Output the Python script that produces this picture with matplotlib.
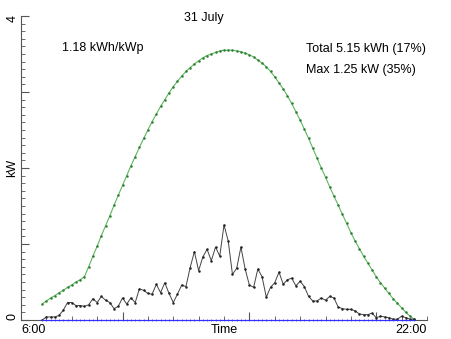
import matplotlib
matplotlib.use('Agg')
import matplotlib.pyplot as plt
import numpy as np
from matplotlib.ticker import FixedLocator, MultipleLocator, NullFormatter

plt.rcParams['font.family'] = ['Liberation Sans', 'DejaVu Sans']

title = "31 July"
yield_text = "1.18 kWh/kWp"
total_text = "Total 5.15 kWh (17%)"
max_text = "Max 1.25 kW (35%)"
start_label = "6:00"
end_label = "22:00"
y_labels = ["0", "4"]

start_hour = 6 + 50 / 60   # first sample 6:50
step_minutes = 10

clear_sky = [0.21, 0.25, 0.29, 0.32, 0.36, 0.39, 0.43, 0.46, 0.50, 0.53,
             0.57, 0.70, 0.84, 0.97, 1.11, 1.24, 1.37, 1.51, 1.64, 1.77,
             1.90, 2.03, 2.15, 2.27, 2.39, 2.50, 2.61, 2.71, 2.81, 2.90,
             2.99, 3.07, 3.14, 3.21, 3.27, 3.32, 3.37, 3.41, 3.45, 3.48,
             3.50, 3.52, 3.54, 3.55, 3.55, 3.55, 3.54, 3.53, 3.51, 3.49,
             3.46, 3.42, 3.38, 3.33, 3.27, 3.20, 3.12, 3.04, 2.95, 2.85,
             2.74, 2.63, 2.51, 2.39, 2.26, 2.13, 2.00, 1.88, 1.75, 1.63,
             1.51, 1.39, 1.27, 1.15, 1.04, 0.94, 0.84, 0.75, 0.66, 0.57,
             0.49, 0.42, 0.35, 0.28, 0.22, 0.16, 0.10, 0.05, 0.01]

actual = [0.00, 0.04, 0.04, 0.04, 0.06, 0.13, 0.23, 0.23, 0.19, 0.19,
          0.18, 0.20, 0.28, 0.23, 0.31, 0.26, 0.23, 0.15, 0.18, 0.29,
          0.21, 0.29, 0.23, 0.41, 0.39, 0.35, 0.34, 0.47, 0.36, 0.49,
          0.35, 0.23, 0.34, 0.46, 0.44, 0.69, 0.90, 0.65, 0.83, 0.93,
          0.78, 0.96, 0.84, 1.25, 1.04, 0.60, 0.68, 0.96, 0.67, 0.46,
          0.43, 0.67, 0.57, 0.30, 0.43, 0.49, 0.63, 0.47, 0.53, 0.55,
          0.45, 0.51, 0.44, 0.31, 0.25, 0.25, 0.29, 0.26, 0.31, 0.29,
          0.17, 0.15, 0.14, 0.14, 0.12, 0.08, 0.07, 0.07, 0.09, 0.03,
          0.05, 0.04, 0.03, 0.01, 0.01, 0.05, 0.03, 0.01, 0.01]

baseline = [0.0] * len(actual)

hours = start_hour + np.arange(len(actual)) * step_minutes / 60

W, H = 452, 339
fig = plt.figure(figsize=(W / 100, H / 100), dpi=100)
ax = fig.add_axes([21 / W, 1 - 320 / H, 406 / W, 304 / H])
ax.set_xlim(6, 22)
ax.set_ylim(0, 4)

ax.plot(hours, clear_sky, color='#5cb85c', lw=0.8, marker='.', ms=1.6,
        mfc='#2e7d32', mec='#2e7d32', zorder=3)
ax.plot(hours, actual, color='#444444', lw=0.7, marker='.', ms=1.6,
        mfc='#222222', mec='#222222', zorder=4)
ax.plot(hours, baseline, color='#3030ff', lw=0.8, marker='+', ms=2.0,
        mew=0.5, clip_on=False, zorder=5)

for s in ['top', 'right']:
    ax.spines[s].set_visible(False)
for s in ['left', 'bottom']:
    ax.spines[s].set_color('#555555')
    ax.spines[s].set_linewidth(0.8)

ax.yaxis.set_major_locator(FixedLocator([0, 1, 2, 3, 4]))
ax.yaxis.set_major_formatter(NullFormatter())
ax.yaxis.set_minor_locator(MultipleLocator(0.1))
ax.xaxis.set_major_locator(FixedLocator([10, 15, 20]))
ax.xaxis.set_major_formatter(NullFormatter())
ax.xaxis.set_minor_locator(MultipleLocator(1))

ax.tick_params(axis='both', which='major', direction='in', length=6,
               width=0.8, color='#555555')
ax.tick_params(axis='both', which='minor', direction='in', length=3,
               width=0.6, color='#555555')


def fx(px):
    return px / W


def fy(py):
    return 1 - py / H


fig.text(fx(13), fy(317), y_labels[0], fontsize=9, rotation=90,
         ha='center', va='center')
fig.text(fx(13), fy(18), y_labels[1], fontsize=9, rotation=90,
         ha='center', va='center')
fig.text(fx(12), fy(168), 'kW', fontsize=9, rotation=90,
         ha='center', va='center')

fig.text(fx(203.5), fy(18), title, fontsize=9, ha='center', va='center')
fig.text(fx(62), fy(48), yield_text, fontsize=9, ha='left', va='center')
fig.text(fx(306), fy(49), total_text, fontsize=9, ha='left', va='center')
fig.text(fx(306), fy(70), max_text, fontsize=9, ha='left', va='center')

fig.text(fx(21), fy(330), start_label, fontsize=9, ha='left', va='center')
fig.text(fx(427), fy(330), end_label, fontsize=9, ha='right', va='center')
fig.text(fx(224), fy(330), 'Time', fontsize=9, ha='center', va='center')

fig.savefig('out.png', dpi=100)
